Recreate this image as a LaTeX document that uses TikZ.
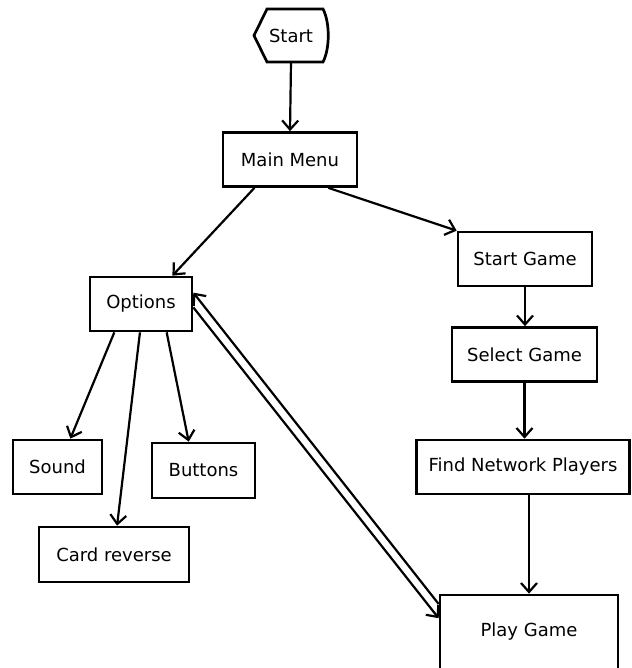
\documentclass[tikz,border=0pt]{standalone}
\usepackage{fontspec}
\setmainfont{DejaVu Sans}
\usetikzlibrary{arrows.meta,calc}
\begin{document}
\begin{tikzpicture}[x=1pt,y=-1pt,
  label font/.style={font=\fontsize{18}{21}\selectfont},
  box/.style={draw=black,line width=2.7pt,inner sep=0pt,minimum height=54pt,label font},
  flow/.style={line width=2.2pt,-{Straight Barb[length=9pt,width=16pt]}},
  hexline/.style={line width=2.7pt,line join=miter}]
\clip (0,0) rectangle (631,668);

% terminator
\node[inner sep=0pt,minimum width=74pt,minimum height=53pt,label font] (start) at (291,35.5) {Start};
\draw[hexline] ($(start)+(-24,-26.5)$) -- ($(start)+(32,-26.5)$)
  .. controls ($(start)+(39,-13)$) and ($(start)+(39,13)$) .. ($(start)+(32,26.5)$)
  -- ($(start)+(-24,26.5)$) -- ($(start)+(-37,0)$) -- cycle;

% menu boxes
\node[box,minimum width=134pt] (main) at (290,159.5) {Main Menu};
\node[box,minimum width=134pt] (sg) at (525,259) {Start Game};
\node[box,minimum width=145pt] (selg) at (524.5,354.5) {Select Game};
\node[box,minimum width=213pt] (find) at (523,467) {Find Network Players};
\node[box,minimum width=178pt,minimum height=74pt] (play) at (529,632) {Play Game};
\node[box,minimum width=102pt] (opt) at (141,304) {Options};
\node[box,minimum width=89pt] (sound) at (57.5,467) {Sound};
\node[box,minimum width=103pt,minimum height=55pt] (btn) at (203.5,470.5) {Buttons};
\node[box,minimum width=150pt,minimum height=55pt] (card) at (114,554.5) {Card reverse};

% connectors
\draw[flow] (start.south) -- (main.north);
\draw[flow] ($(main.south west)!0.24!(main.south east)$) -- ($(opt.north west)!0.8!(opt.north east)$);
\draw[flow] ($(main.south west)!0.78!(main.south east)$) -- (sg.north west);
\draw[flow] (sg.south) -- (sg.south |- selg.north);
\draw[flow] (selg.south) -- (selg.south |- find.north);
\draw[flow] (play.north |- find.south) -- (play.north);
\draw[flow] ($(opt.south west)!0.245!(opt.south east)$) -- ($(sound.north west)!0.64!(sound.north east)$);
\draw[flow] ($(opt.south west)!0.49!(opt.south east)$) -- ($(card.north west)!0.52!(card.north east)$);
\draw[flow] ($(opt.south west)!0.745!(opt.south east)$) -- ($(btn.north west)!0.36!(btn.north east)$);
\draw[flow] ($(play.north west)!0.135!(play.south west)$) -- ($(opt.north east)!0.3!(opt.south east)$);
\draw[flow] ($(opt.north east)!0.56!(opt.south east)$) -- ($(play.north west)!0.32!(play.south west)$);
\end{tikzpicture}
\end{document}
